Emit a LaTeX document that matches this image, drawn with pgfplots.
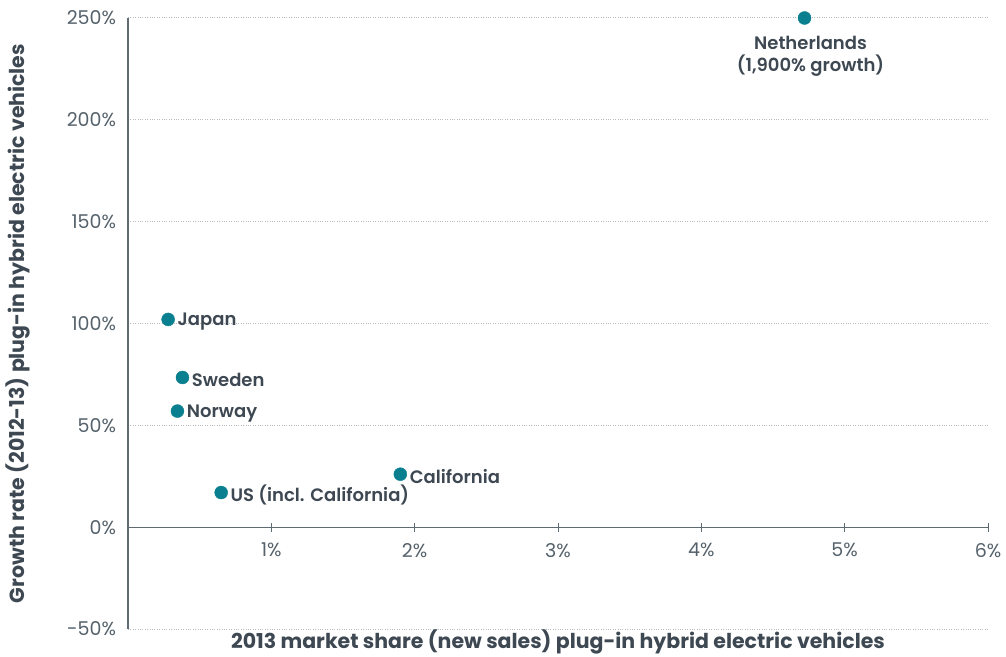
\documentclass[border=0pt]{standalone}
\usepackage{pgfplots}
\pgfplotsset{compat=1.18}
\usepackage{fontspec}
\setmainfont{Poppins}
\newfontfamily\medfont{Poppins}[UprightFont={* SemiBold}]
\definecolor{teal}{HTML}{0A7F8F}
\definecolor{txt}{HTML}{3D4852}
\definecolor{tick}{HTML}{55626B}
\definecolor{axl}{HTML}{5F6B73}
\definecolor{grd}{HTML}{B5BCC1}
\begin{document}
\begin{tikzpicture}
\begin{axis}[
  scale only axis,
  width=860pt, height=611pt,
  xmin=0, xmax=6, ymin=-50, ymax=250,
  axis x line=middle, axis y line=left,
  axis line style={-, axl, line width=1.2pt},
  xtick={1,2,3,4,5,6},
  xticklabels={1\%,2\%,3\%,4\%,5\%,6\%},
  ytick={-50,0,50,100,150,200,250},
  yticklabels={-50\%,0\%,50\%,100\%,150\%,200\%,250\%},
  x tick style={axl, line width=1pt},
  major tick length=9pt,
  y tick style={draw=none},
  ymajorgrids,
  grid style={grd, dotted, line width=1pt},
  tick label style={font=\fontsize{19}{23}\selectfont, text=tick},
  xticklabel style={yshift=-8pt},
  yticklabel style={xshift=-4pt},
  xlabel={\textbf{2013 market share (new sales) plug-in hybrid electric vehicles}},
  ylabel={\textbf{Growth rate (2012-13) plug-in hybrid electric vehicles}},
  label style={font=\fontsize{20.5}{24}\selectfont, text=txt},
  xlabel style={at={(axis description cs:0.5,0)}, anchor=center, yshift=-13pt},
  ylabel style={at={(axis description cs:0,0.5)}, anchor=center, yshift=110pt},
  clip=false,
  point meta=explicit symbolic,
  nodes near coords,
  nodes near coords style={anchor=west, font=\fontsize{18}{22}\selectfont\medfont, text=txt, xshift=6pt, yshift=-2.5pt},
]
\addplot[only marks, mark=*, mark size=6.5pt, teal] coordinates {
  (0.28,102) [Japan]
  (0.38,73.5) [Sweden]
  (0.345,57) [Norway]
  (1.90,26) [California]
  (0.65,17) [US (incl. California)]
};
\addplot[only marks, mark=*, mark size=6.5pt, teal,
  nodes near coords style={anchor=north, align=center, yshift=-12pt, xshift=0pt}] coordinates {
  (4.72,250) [{Netherlands\\(1,900\% growth)}]
};
\end{axis}
\pgfresetboundingbox
\path (current axis.south west) ++(-128pt,-27pt) rectangle ++(1006pt,656pt);
\end{tikzpicture}
\end{document}
